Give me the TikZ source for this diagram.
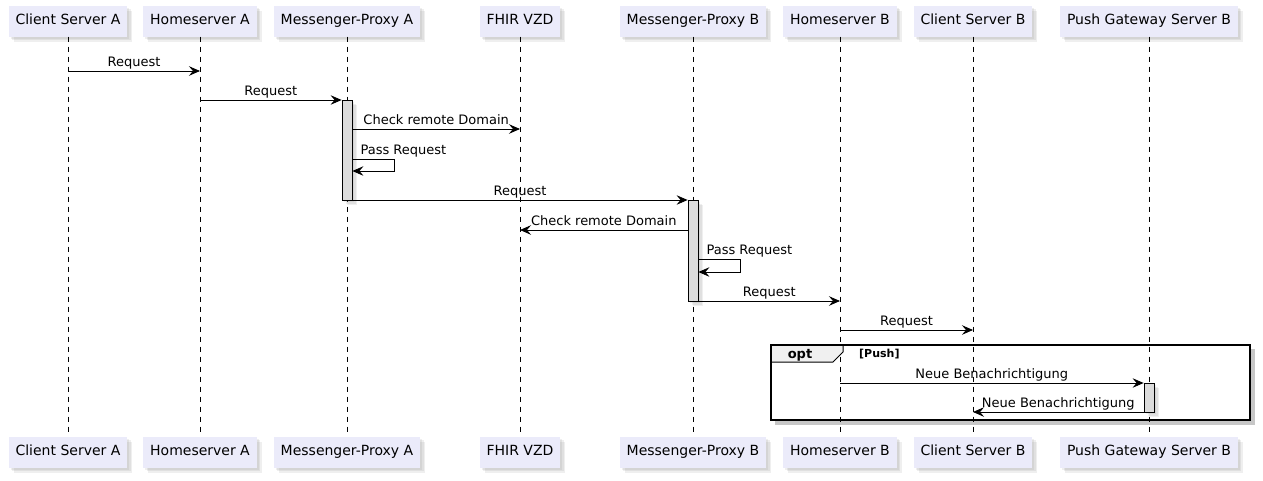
\documentclass[tikz,border=0pt]{standalone}
\usepackage{fontspec}
\setmainfont{DejaVu Sans}
\usetikzlibrary{arrows.meta,shadows,calc}
\definecolor{partfill}{HTML}{EBEBFA}
\definecolor{barfill}{HTML}{DCDCDC}
\tikzset{
  softshadow/.style={
    drop shadow={opacity=0.13, shadow xshift=2pt, shadow yshift=-2pt},
    drop shadow={opacity=0.13, shadow xshift=3.5pt, shadow yshift=-3.5pt},
    drop shadow={opacity=0.13, shadow xshift=5pt, shadow yshift=-5pt}},
  part/.style={fill=partfill, draw=none, minimum height=31pt, inner xsep=7pt,
    font=\fontsize{14}{16}\selectfont, text height=10pt, text depth=3pt, softshadow},
  life/.style={dash pattern=on 5pt off 5pt, line width=0.8pt},
  msg/.style={line width=0.8pt, -{Stealth[length=11pt,width=9.5pt,inset=4pt]}},
  lbl/.style={font=\fontsize{13}{15}\selectfont, anchor=base, inner sep=0pt},
  actbar/.style={fill=barfill, draw=black, line width=0.8pt, minimum width=10pt,
    inner sep=0pt, softshadow},
}
\begin{document}
\begin{tikzpicture}[x=1pt,y=-1pt]
\useasboundingbox (0,0) rectangle (1263,480);
% participants top
\node[part] (ca) at (68,21) {Client Server A};
\node[part] (ha) at (200,21) {Homeserver A};
\node[part] (pa) at (347,21) {Messenger-Proxy A};
\node[part] (fz) at (520,21) {FHIR VZD};
\node[part] (pb) at (693,21) {Messenger-Proxy B};
\node[part] (hb) at (840,21) {Homeserver B};
\node[part] (cb) at (973,21) {Client Server B};
\node[part] (pg) at (1149,21) {Push Gateway Server B};
% participants bottom
\node[part] (ca2) at (68,452) {Client Server A};
\node[part] (ha2) at (200,452) {Homeserver A};
\node[part] (pa2) at (347,452) {Messenger-Proxy A};
\node[part] (fz2) at (520,452) {FHIR VZD};
\node[part] (pb2) at (693,452) {Messenger-Proxy B};
\node[part] (hb2) at (840,452) {Homeserver B};
\node[part] (cb2) at (973,452) {Client Server B};
\node[part] (pg2) at (1149,452) {Push Gateway Server B};
% lifelines
\foreach \p in {ca,ha,pa,fz,pb,hb,cb,pg}{
  \draw[life] (\p.south) -- (\p2.north);
}
% activation bars
\node[actbar, minimum height=100pt] (actA) at (pa |- 0,150) {};
\node[actbar, minimum height=101pt] (actB) at (pb |- 0,250.5) {};
\node[actbar, minimum height=29pt] (actC) at (pg |- 0,397.5) {};
% messages
\draw[msg] (ca |- 0,71) -- (ha |- 0,71) node[lbl, midway, yshift=5pt] (m1) {Request};
\draw[msg] (ha |- 0,100) -- (actA.west |- 0,100) node[lbl, midway, yshift=5pt] (m2) {Request};
\draw[msg] (actA.east |- 0,129) -- (fz |- 0,129) node[lbl, midway, yshift=5pt] (m3) {Check remote Domain};
\draw[msg] (actA.east |- 0,159) -- ++(42,0) -- ++(0,12) -- (actA.east |- 0,171);
\node[lbl, anchor=base west] (m4) at ($(actA.east |- 0,159)+(8,-5)$) {Pass Request};
\draw[msg] (actA.east |- 0,200) -- (actB.west |- 0,200) node[lbl, midway, yshift=5pt] (m5) {Request};
\draw[msg] (actB.west |- 0,230) -- (fz |- 0,230) node[lbl, midway, yshift=5pt] (m6) {Check remote Domain};
\draw[msg] (actB.east |- 0,259) -- ++(42,0) -- ++(0,13) -- (actB.east |- 0,272);
\node[lbl, anchor=base west] (m7) at ($(actB.east |- 0,259)+(8,-5)$) {Pass Request};
\draw[msg] (actB.east |- 0,301) -- (hb |- 0,301) node[lbl, midway, yshift=5pt] (m8) {Request};
\draw[msg] (hb |- 0,330) -- (cb |- 0,330) node[lbl, midway, yshift=5pt] (m9) {Request};
\draw[msg] (hb |- 0,383) -- (actC.west |- 0,383) node[lbl, midway, yshift=5pt] (m10) {Neue Benachrichtigung};
\draw[msg] (actC.west |- 0,412) -- (cb |- 0,412) node[lbl, midway, yshift=5pt] (m11) {Neue Benachrichtigung};
% opt frame
\fill[black, opacity=0.22] (775,420.75) rectangle (1254.5,424.5);
\fill[black, opacity=0.22] (1250.75,349) rectangle (1254.5,420.75);
\draw[line width=1pt, fill=gray!12] (771,345) -- (843,345) -- (843,352) -- (833,362) -- (771,362) -- cycle;
\node[anchor=base, inner sep=0pt, font=\bfseries\fontsize{13}{15}\selectfont] (optlbl) at (800,358) {opt};
\node[anchor=base west, inner sep=0pt, font=\bfseries\fontsize{11}{13}\selectfont] (optcond) at (859,357) {[Push]};
\draw[line width=1.5pt] (771,345) rectangle (1250,420);
\end{tikzpicture}
\end{document}
